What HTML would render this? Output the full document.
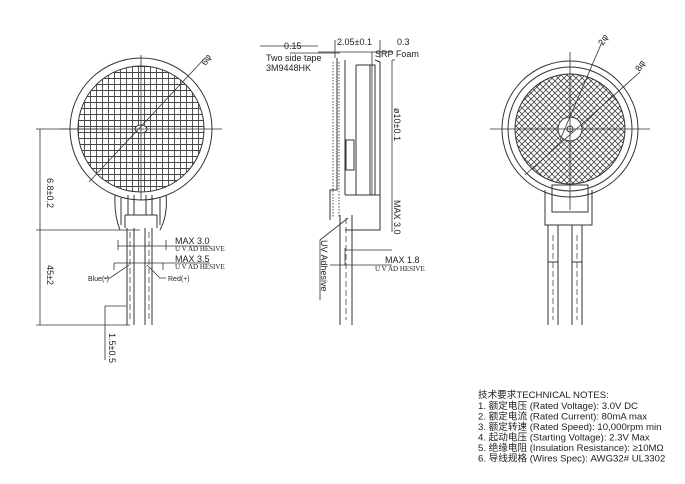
<!DOCTYPE html>
<html><head><meta charset="utf-8"><style>
html,body{margin:0;padding:0;background:#fff;}
svg{display:block;}
text{font-family:"Liberation Sans","Noto Sans CJK SC",sans-serif;fill:#222;}
</style></head><body>
<svg width="685" height="484" viewBox="0 0 685 484" xmlns="http://www.w3.org/2000/svg">
<defs>
<pattern id="grid" width="6" height="6" patternUnits="userSpaceOnUse">
<path d="M0 0.5H6M0.5 0V6" stroke="#444" stroke-width="0.9"/></pattern>
<pattern id="xh" width="6" height="6" patternUnits="userSpaceOnUse">
<path d="M0 0L6 6M6 0L0 6" stroke="#444" stroke-width="0.8"/></pattern>
</defs>
<g fill="none" stroke="#333" stroke-width="1">
<circle cx="141" cy="129" r="71"/>
<circle cx="141" cy="129" r="63" fill="url(#grid)"/>
<ellipse cx="141" cy="129" rx="6" ry="4" fill="#fff"/>
<path d="M60 129H222M141 55V200" stroke-width="0.8"/>
<path d="M89 182L205 58" stroke-width="0.8"/>
<text x="206" y="66" font-size="9" stroke="none" transform="rotate(-60 206 66)" fill="#222">6φ</text>
<path d="M115 195Q114 215 120 230M166 195Q168 215 160 230" />
<path d="M121 198V225M160 198V225M125 215H157M125 215V228M157 215V228"/>
<path d="M128 215V195M134 215V195M146 215V195M152 215V195"/>
<path d="M127 228V325M134 228V325M145 228V325M152 228V325"/>
<path d="M130 232V320M149 232V320" stroke-dasharray="6 3" stroke-width="0.7"/>
<path d="M36 129H110M36 230H140M36 325H130M40 129V325M105 306H126M105 306V360" stroke-width="0.8"/>
<path d="M118 240V250M166 240V250M118 246H166M114 263V270M163 263V270M114 263H210M118 246H210" stroke-width="0.8"/>
<path d="M129 265L110 278H104M147 265L160 278H166" stroke-width="0.8"/>
<path d="M337 58V190H330V220M345 60V195M356 65H375V195H356M356 65V195M370 65V195M375 60L380 62V195"/>
<path d="M333 62V218M339 62V218" stroke="#555" stroke-dasharray="1.5 1.5"/>
<rect x="346" y="140" width="8" height="30"/>
<path d="M345 195H380V230H345M340 215V325M352 215V325" />
<path d="M346 218V320" stroke-dasharray="6 3" stroke-width="0.7"/>
<path d="M318 52H392M335 40V58M380 40V58M372 52V195M392 60H395M392 60V232M345 250H392M345 248V265M330 265H392" stroke-width="0.8"/>
<path d="M348 218L320 240V300" stroke-width="0.8"/>
<path d="M290 53H340M260 46H318" stroke-width="0.8"/>
<circle cx="570" cy="129" r="68"/>
<circle cx="570" cy="129" r="62"/>
<circle cx="570" cy="129" r="55" fill="url(#xh)"/>
<circle cx="570" cy="129" r="12" fill="#fff"/>
<circle cx="570" cy="129" r="3"/>
<path d="M490 129H650M570 52V210" stroke-width="0.8"/>
<path d="M525 175L640 72M560 140L602 42" stroke-width="0.8"/>
<text x="640" y="72" font-size="9" stroke="none" transform="rotate(-60 640 72)">8φ</text>
<text x="603" y="46" font-size="9" stroke="none" transform="rotate(-60 603 46)">2φ</text>
<path d="M552 185H588V212H552ZM545 190V225H592V190M548 225V325M558 225V325M572 225V325M582 225V325"/>
<path d="M553 235V320M577 235V320" stroke-dasharray="6 3" stroke-width="0.7"/>
<path d="M548 262H558M572 262H582"/>
</g>
<g font-size="9">
<text transform="translate(47 178) rotate(90)">6.8±0.2</text>
<text transform="translate(47 265) rotate(90)">45±2</text>
<text transform="translate(109 333) rotate(90)">1.5±0.5</text>
<text x="175" y="244">MAX  3.0</text>
<text x="175" y="251" font-size="7" style="font-family:'Liberation Serif',serif" fill="#35a">U V AD HESIVE</text>
<text x="175" y="262">MAX  3.5</text>
<text x="175" y="269" font-size="7" style="font-family:'Liberation Serif',serif" fill="#35a">U V AD HESIVE</text>
<text x="88" y="281" font-size="7">Blue(-)</text>
<text x="168" y="281" font-size="7">Red(+)</text>
<text x="284" y="49">0.15</text>
<text x="266" y="61">Two side tape</text>
<text x="266" y="71">3M9448HK</text>
<text x="337" y="45">2.05±0.1</text>
<text x="397" y="45">0.3</text>
<text x="375" y="57">SRP Foam</text>
<text transform="translate(394 108) rotate(90)">ø10±0.1</text>
<text transform="translate(394 200) rotate(90)">MAX 3.0</text>
<text transform="translate(321 240) rotate(90)">UV Adhesive</text>
<text x="385" y="263">MAX 1.8</text>
<text x="375" y="271" font-size="7" style="font-family:'Liberation Serif',serif" fill="#35a">U V AD HESIVE</text>
</g>
<g font-size="9.6">
<text x="478" y="398">技术要求TECHNICAL NOTES:</text>
<text x="478" y="409">1. 额定电压 (Rated Voltage): 3.0V DC</text>
<text x="478" y="419.5">2. 额定电流 (Rated Current): 80mA max</text>
<text x="478" y="430">3. 额定转速 (Rated Speed): 10,000rpm min</text>
<text x="478" y="440.5">4. 起动电压 (Starting Voltage): 2.3V Max</text>
<text x="478" y="451">5. 绝缘电阻 (Insulation Resistance): ≥10MΩ</text>
<text x="478" y="461.5">6. 导线规格 (Wires Spec): AWG32# UL3302</text>
</g>
</svg>
</body></html>
